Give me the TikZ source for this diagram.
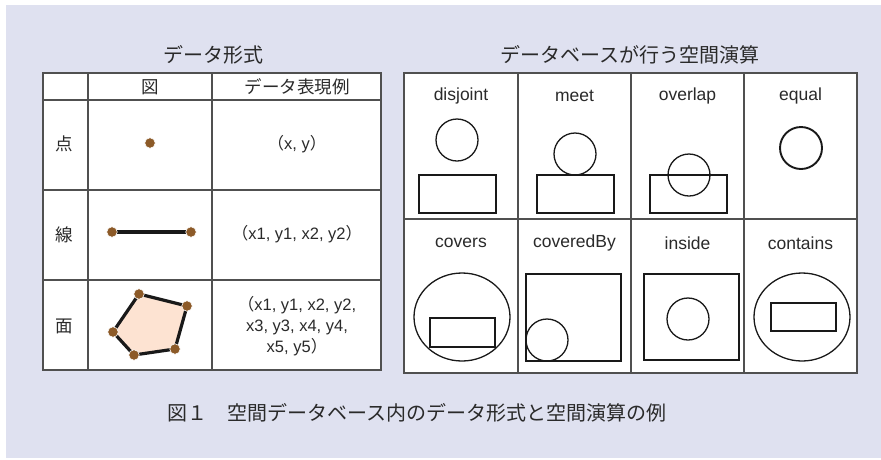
\documentclass[tikz,border=0pt]{standalone}
\usepackage{fontspec}
\setmainfont{Liberation Sans}
\newfontfamily\cjk{Noto Sans CJK JP}
\definecolor{bgl}{HTML}{DFE1F0}
\definecolor{brn}{HTML}{8C5A28}
\definecolor{peach}{HTML}{FDE3D2}
\definecolor{txt}{HTML}{2A2A2A}
\definecolor{grid}{HTML}{505050}
\tikzset{
  grid line/.style={draw=grid, line width=1.1pt},
  shp/.style={draw=black!90, line width=1.3pt},
  ttl/.style={text=txt, font=\cjk\fontsize{20}{24}\selectfont, inner sep=0pt},
  hdr/.style={text=txt, font=\cjk\fontsize{17.5}{21}\selectfont, inner sep=0pt},
  lbl/.style={text=txt, font=\fontsize{17.5}{21}\selectfont, inner sep=0pt},
  dat/.style={text=txt, font=\fontsize{16.5}{21}\selectfont, inner sep=0pt, align=center},
  dot/.style={circle, fill=brn, draw=white, line width=0.6pt, minimum size=10.5pt, inner sep=0pt},
}
\newcommand{\lp}{{\cjk （}}
\newcommand{\rp}{{\cjk ）}}
\begin{document}
\begin{tikzpicture}[x=1pt,y=-1pt]
\useasboundingbox (0,0) rectangle (881,459);
\fill[white] (0,0) rectangle (881,459);
\fill[bgl] (6,5) rectangle (881,458);

% ---------- left table
\node[ttl] (t1) at (213,55) {データ形式};
\fill[white] (43,73) rectangle (381,370);
\draw[grid line] (43,73) rectangle (381,370);
\draw[grid line] (88,73) -- (88,370);
\draw[grid line] (212,73) -- (212,370);
\draw[grid line] (43,100) -- (381,100);
\draw[grid line] (43,190) -- (381,190);
\draw[grid line] (43,280) -- (381,280);

\node[hdr] (h1) at (150,87) {図};
\node[hdr] (h2) at (297,87) {データ表現例};
\node[hdr] (r1) at (64,144) {点};
\node[hdr] (r2) at (64,235) {線};
\node[hdr] (r3) at (64,326) {面};

\node[dat] (d1) at (297,144) {\lp x, y\rp};
\node[dat] (d2) at (297,234) {\lp x1, y1, x2, y2\rp};
\node[dat] (d3) at (297,326) {\lp x1, y1, x2, y2,\\x3, y3, x4, y4,\\x5, y5\rp};

% point
\node[dot] (p0) at (150,143) {};
% line
\coordinate (l1) at (112,232);
\coordinate (l2) at (191,232);
\draw[line width=3.2pt, black!90] (l1) -- (l2);
\node[dot] (l1d) at (l1) {};
\node[dot] (l2d) at (l2) {};
% polygon
\coordinate (v1) at (139,294);
\coordinate (v2) at (187,306);
\coordinate (v3) at (175,349);
\coordinate (v4) at (134,355);
\coordinate (v5) at (113,332);
\filldraw[fill=peach, draw=black!90, line width=3.2pt, line join=round] (v1) -- (v2) -- (v3) -- (v4) -- (v5) -- cycle;
\foreach \v in {v1,v2,v3,v4,v5} \node[dot] at (\v) {};

% ---------- right table
\node[ttl] (t2) at (630,55) {データベースが行う空間演算};
\fill[white] (404,73) rectangle (857,373);
\draw[grid line] (404,73) rectangle (857,373);
\draw[grid line] (518,73) -- (518,373);
\draw[grid line] (631,73) -- (631,373);
\draw[grid line] (744,73) -- (744,373);
\draw[grid line] (404,219) -- (857,219);

\node[lbl] (o1) at (461,96) {disjoint};
\node[lbl] (o2) at (574.5,96) {meet};
\node[lbl] (o3) at (687.5,96) {overlap};
\node[lbl] (o4) at (800.5,96) {equal};
\node[lbl] (o5) at (461,243) {covers};
\node[lbl] (o6) at (574.5,243) {coveredBy};
\node[lbl] (o7) at (687.5,243) {inside};
\node[lbl] (o8) at (800.5,243) {contains};

% disjoint
\draw[shp] (457,140) circle (21);
\draw[shp] (419,175) rectangle (496,213);
% meet
\draw[shp] (575,154) circle (21);
\draw[shp] (537,175) rectangle (614,213);
% overlap
\draw[shp] (650,175) rectangle (727,213);
\draw[shp] (689,175) circle (21);
% equal
\draw[shp, line width=1.9pt] (801,148) circle (21);
% covers
\draw[shp] (462,317) ellipse (48 and 44);
\draw[shp] (430,318) rectangle (495,347);
% coveredBy
\draw[shp] (526,274) rectangle (621,361);
\draw[shp] (547,340) circle (21);
% inside
\draw[shp] (644,274) rectangle (739,360);
\draw[shp] (688,319) circle (21);
% contains
\draw[shp] (802,317) ellipse (48 and 44);
\draw[shp] (771,303) rectangle (836,331);

% caption
\node[ttl, anchor=west] (cap) at (167,413) {図１　空間データベース内のデータ形式と空間演算の例};
\end{tikzpicture}
\end{document}
